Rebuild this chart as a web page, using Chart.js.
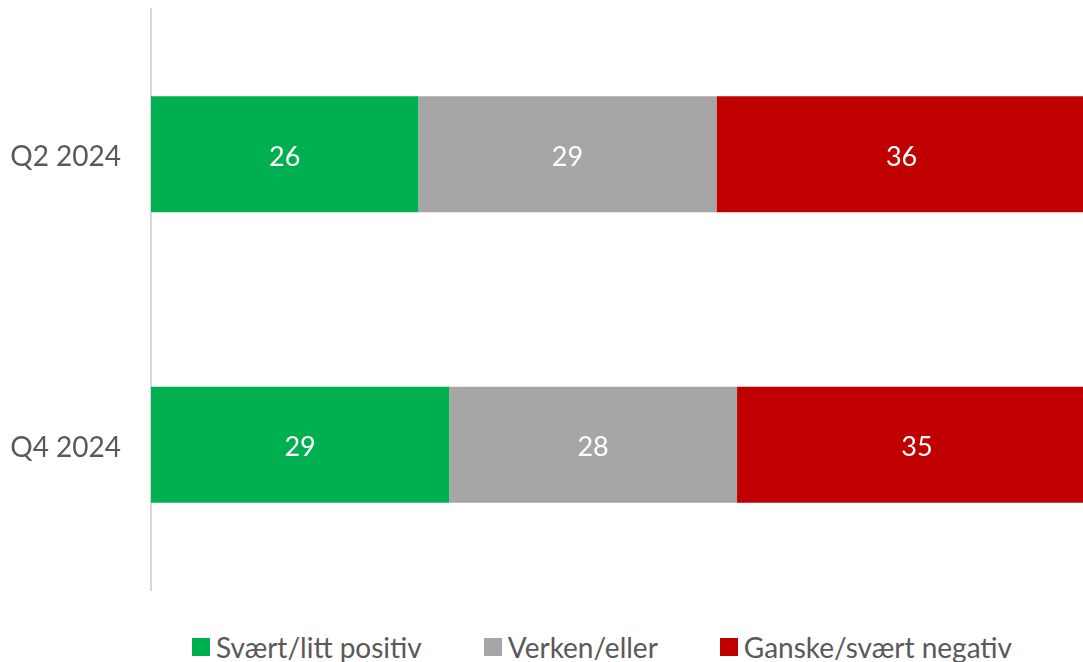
<!DOCTYPE html>
<html lang="no">
<head>
  <meta charset="UTF-8" />
  <title>Holdning Q2 vs Q4 2024</title>
  <script src="https://cdn.jsdelivr.net/npm/chart.js"></script>
  <style>
    body { margin: 0; padding: 0; background: #ffffff; }
    .wrap { width: 1083px; height: 662px; position: relative; }
    canvas { display: block; }
    .legend {
      position: absolute; left: 192px; top: 630px;
      display: flex; align-items: center;
      font-family: Lato, "Open Sans", Arial, sans-serif;
      font-size: 28px; color: #595959; line-height: 34px;
      white-space: nowrap;
    }
    .legend .item { display: flex; align-items: center; margin-right: 62px; }
    .legend .box { width: 18px; height: 18px; margin-right: 6px; }
  </style>
</head>
<body>
  <div class="wrap">
    <canvas id="chart" width="1083" height="600"></canvas>
    <div class="legend" id="legend"></div>
  </div>

  <script>
    const categories = ['Q2 2024', 'Q4 2024'];
    const seriesNames = ['Svært/litt positiv', 'Verken/eller', 'Ganske/svært negativ'];
    const positive = [26, 29];
    const neutral = [29, 28];
    const negative = [36, 35];
    const colors = ['#00B050', '#A6A6A6', '#C00000'];

    const textColor = '#595959';
    const fontFamily = 'Lato, "Open Sans", Arial, sans-serif';

    // simple centred value labels (no datalabels plugin available offline)
    const valueLabels = {
      id: 'valueLabels',
      afterDatasetsDraw(chart) {
        const ctx = chart.ctx;
        ctx.save();
        ctx.fillStyle = '#ffffff';
        ctx.font = '27px ' + fontFamily;
        ctx.textAlign = 'center';
        ctx.textBaseline = 'middle';
        chart.data.datasets.forEach((ds, i) => {
          chart.getDatasetMeta(i).data.forEach((bar, j) => {
            const p = bar.getCenterPoint();
            ctx.fillText(ds.data[j], p.x, p.y + 3);
          });
        });
        ctx.restore();
      }
    };

    const chart = new Chart(document.getElementById('chart'), {
      type: 'bar',
      data: {
        labels: categories,
        datasets: [
          { label: seriesNames[0], data: positive, backgroundColor: colors[0] },
          { label: seriesNames[1], data: neutral, backgroundColor: colors[1] },
          { label: seriesNames[2], data: negative, backgroundColor: colors[2] }
        ]
      },
      options: {
        indexAxis: 'y',
        responsive: false,
        animation: false,
        layout: { padding: { top: 9, right: 0, bottom: 10, left: 0 } },
        datasets: {
          bar: { categoryPercentage: 1, barPercentage: 0.4, borderWidth: 0 }
        },
        scales: {
          x: {
            stacked: true,
            display: false,
            min: 0,
            max: 90.65
          },
          y: {
            stacked: true,
            afterFit: (scale) => {
              scale.width = 151;
              scale.paddingTop = 0;
              scale.paddingBottom = 0;
            },
            grid: { display: true, drawOnChartArea: false, drawTicks: false },
            border: { display: true, color: '#D9D9D9', width: 2 },
            ticks: {
              color: textColor,
              padding: 30,
              labelOffset: 3,
              font: { size: 28, family: fontFamily }
            }
          }
        },
        plugins: {
          legend: { display: false },
          tooltip: { enabled: false }
        }
      },
      plugins: [valueLabels]
    });

    // legend as html, built from the chart's datasets
    const legendEl = document.getElementById('legend');
    chart.data.datasets.forEach((ds) => {
      const item = document.createElement('div');
      item.className = 'item';
      item.innerHTML = `<span class="box" style="background:${ds.backgroundColor}"></span><span>${ds.label}</span>`;
      legendEl.appendChild(item);
    });
  </script>
</body>
</html>
